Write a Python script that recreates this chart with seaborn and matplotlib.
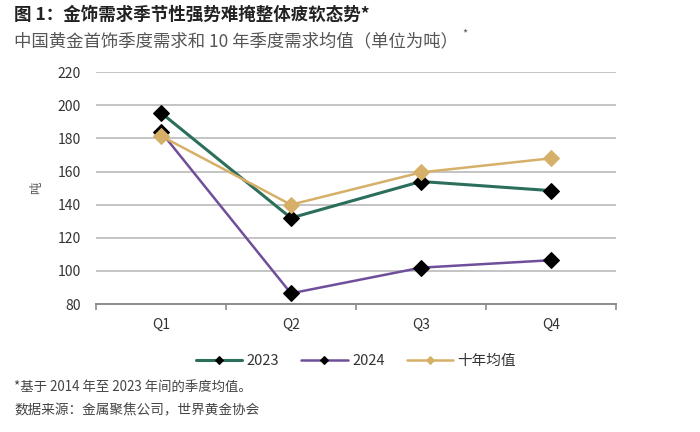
import matplotlib
matplotlib.use("Agg")
import matplotlib.pyplot as plt
import seaborn as sns
import pandas as pd

# 数据（吨）
quarters = ["Q1", "Q2", "Q3", "Q4"]
demand_2023 = [195.5, 132.0, 154.0, 148.5]
demand_2024 = [184.0, 86.5, 102.0, 106.5]
avg_10yr = [181.5, 140.0, 159.5, 168.0]
series_names = ["2023", "2024", "十年均值"]
yticks = [80, 100, 120, 140, 160, 180, 200, 220]

sns.set_theme(style="white")
plt.rcParams["font.family"] = ["Noto Sans CJK SC", "DejaVu Sans"]

fig = plt.figure(figsize=(7, 4.32), dpi=100)
ax = fig.add_axes([0.137, 0.296, 0.743, 0.537])

colors = ["#2b6e5b", "#6f4f9b", "#d6b068"]
mfc = ["black", "black", "#d6b068"]
values = [demand_2023, demand_2024, avg_10yr]

for name, vals, c, fc in zip(series_names, values, colors, mfc):
    df = pd.DataFrame({"季度": quarters, "吨": vals})
    sns.lineplot(data=df, x="季度", y="吨", ax=ax, color=c, linewidth=2.2 if name == "2023" else 1.8,
                 marker="D", markersize=8, markerfacecolor=fc, markeredgecolor=fc,
                 label=name, zorder=3)

ax.set_xlim(-0.5, 3.5)
ax.set_ylim(80, 220)
ax.set_yticks(yticks)
ax.yaxis.grid(True, color="#c4c4c4", linewidth=1.4)
ax.xaxis.grid(False)
for s in ["top", "right", "left"]:
    ax.spines[s].set_visible(False)
ax.spines["bottom"].set_color("#8c8c8c")
ax.spines["bottom"].set_linewidth(1.4)

ax.set_xticks(range(len(quarters)))
ax.set_xticklabels(quarters)
ax.set_xticks([-0.5, 0.5, 1.5, 2.5, 3.5], minor=True)
ax.tick_params(axis="x", which="major", length=0, pad=10, labelsize=10, colors="#333333")
ax.tick_params(axis="x", which="minor", length=4, width=1.2, color="#8c8c8c", direction="out", bottom=True)
ax.tick_params(axis="y", length=0, pad=11, labelsize=10, colors="#333333")

ax.set_xlabel("")
ax.set_ylabel("吨", fontsize=9, color="#555555", labelpad=10)

leg = ax.legend(loc="upper center", bbox_to_anchor=(0.5, -0.16), ncol=3, frameon=False,
                fontsize=10.5, handlelength=3.2, columnspacing=1.5, handletextpad=0.3)
for line in leg.get_lines():
    line.set_markersize(4.5)
for t in leg.get_texts():
    t.set_color("#333333")

fig.text(0.02, 0.955, "图 1：金饰需求季节性强势难掩整体疲软态势*", fontsize=12.6, fontweight="bold",
         color="#222222")
fig.text(0.02, 0.893, "中国黄金首饰季度需求和 10 年季度需求均值（单位为吨）", fontsize=12.5,
         color="#555555")
fig.text(0.66, 0.915, "*", fontsize=8, color="#555555")
fig.text(0.02, 0.095, "*基于 2014 年至 2023 年间的季度均值。", fontsize=9.6, color="#444444")
fig.text(0.02, 0.04, "数据来源：金属聚焦公司，世界黄金协会", fontsize=9.8, color="#444444")

fig.savefig("out.png", dpi=100)
